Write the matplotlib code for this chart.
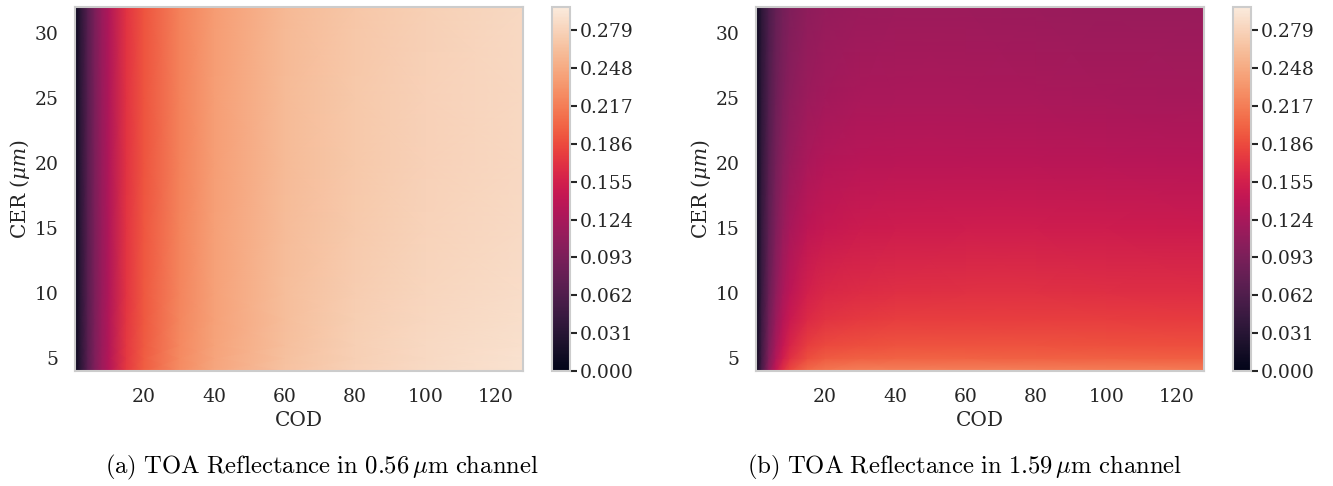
import numpy as np
import matplotlib
matplotlib.use("Agg")
import matplotlib.pyplot as plt
import seaborn as sns

plt.rcParams['font.family'] = ['DejaVu Serif']
plt.rcParams['mathtext.fontset'] = 'dejavuserif'

# ---- data ----
cod = [0.5, 2, 4, 6, 8, 10, 15, 20, 30, 40, 60, 80, 100, 128]
cer = [4, 5, 6, 8, 10, 15, 20, 25, 32]

refl_056 = [
    [0.010, 0.036, 0.069, 0.096, 0.116, 0.132, 0.175, 0.197, 0.226, 0.245, 0.266, 0.278, 0.285, 0.291],  # CER 4
    [0.010, 0.036, 0.069, 0.095, 0.116, 0.132, 0.174, 0.196, 0.225, 0.244, 0.265, 0.277, 0.284, 0.290],  # CER 5
    [0.010, 0.035, 0.068, 0.095, 0.115, 0.131, 0.174, 0.195, 0.224, 0.243, 0.264, 0.276, 0.283, 0.289],  # CER 6
    [0.010, 0.035, 0.068, 0.094, 0.115, 0.131, 0.173, 0.194, 0.223, 0.242, 0.263, 0.275, 0.282, 0.288],  # CER 8
    [0.010, 0.035, 0.068, 0.094, 0.114, 0.130, 0.172, 0.194, 0.222, 0.241, 0.262, 0.274, 0.281, 0.287],  # CER 10
    [0.010, 0.035, 0.068, 0.094, 0.114, 0.130, 0.172, 0.193, 0.221, 0.240, 0.261, 0.272, 0.279, 0.285],  # CER 15
    [0.010, 0.035, 0.068, 0.094, 0.114, 0.130, 0.171, 0.192, 0.220, 0.239, 0.260, 0.271, 0.278, 0.284],  # CER 20
    [0.010, 0.035, 0.067, 0.093, 0.113, 0.129, 0.171, 0.192, 0.220, 0.239, 0.260, 0.271, 0.278, 0.284],  # CER 25
    [0.010, 0.035, 0.067, 0.093, 0.113, 0.129, 0.170, 0.191, 0.219, 0.238, 0.259, 0.270, 0.277, 0.283],  # CER 32
]

refl_159 = [
    [0.013, 0.056, 0.106, 0.143, 0.168, 0.185, 0.205, 0.214, 0.219, 0.220, 0.220, 0.219, 0.218, 0.217],  # CER 4
    [0.012, 0.052, 0.097, 0.130, 0.152, 0.168, 0.187, 0.195, 0.199, 0.200, 0.200, 0.199, 0.198, 0.197],  # CER 5
    [0.012, 0.050, 0.092, 0.123, 0.144, 0.159, 0.177, 0.184, 0.188, 0.190, 0.190, 0.190, 0.189, 0.188],  # CER 6
    [0.011, 0.047, 0.086, 0.114, 0.133, 0.147, 0.164, 0.171, 0.175, 0.177, 0.178, 0.178, 0.177, 0.176],  # CER 8
    [0.011, 0.045, 0.081, 0.107, 0.125, 0.138, 0.155, 0.162, 0.166, 0.168, 0.169, 0.169, 0.168, 0.167],  # CER 10
    [0.010, 0.041, 0.073, 0.096, 0.112, 0.124, 0.139, 0.145, 0.150, 0.151, 0.152, 0.152, 0.151, 0.150],  # CER 15
    [0.010, 0.039, 0.068, 0.089, 0.103, 0.113, 0.126, 0.132, 0.136, 0.137, 0.137, 0.137, 0.136, 0.135],  # CER 20
    [0.010, 0.037, 0.064, 0.083, 0.096, 0.105, 0.116, 0.121, 0.125, 0.126, 0.126, 0.125, 0.124, 0.123],  # CER 25
    [0.010, 0.035, 0.060, 0.077, 0.088, 0.096, 0.106, 0.111, 0.115, 0.116, 0.116, 0.115, 0.114, 0.113],  # CER 32
]

cbar_ticks = [0.000, 0.031, 0.062, 0.093, 0.124, 0.155, 0.186, 0.217, 0.248, 0.279]
x_ticks = [20, 40, 60, 80, 100, 120]
y_ticks = [5, 10, 15, 20, 25, 30]
captions = [r"$\mathrm{(a)\ TOA\ Reflectance\ in\ 0.56\,\mu m\ channel}$",
            r"$\mathrm{(b)\ TOA\ Reflectance\ in\ 1.59\,\mu m\ channel}$"]

vmin, vmax = 0.0, 0.298
cmap = sns.color_palette("rocket", as_cmap=True)

W, H = 1333, 486
fig = plt.figure(figsize=(W / 100, H / 100), dpi=100)

def px(x0, y0, x1, y1):
    return [x0 / W, 1 - y1 / H, (x1 - x0) / W, (y1 - y0) / H]

panels = [
    (refl_056, px(75, 7, 523, 371), px(552, 7, 570, 371), 322),
    (refl_159, px(756, 7, 1204, 371), px(1233, 7, 1251, 371), 965),
]

spine_col = '#cccccc'
txt_col = '#262626'
for i, (Z, axpos, cbpos, capx) in enumerate(panels):
    ax = fig.add_axes(axpos)
    mesh = ax.pcolormesh(np.array(cod), np.array(cer), np.array(Z),
                         shading='gouraud', cmap=cmap, vmin=vmin, vmax=vmax,
                         rasterized=True)
    ax.set_xlim(0.4, 127.7)
    ax.set_ylim(4, 32)
    ax.set_xticks(x_ticks)
    ax.set_yticks(y_ticks)
    ax.tick_params(axis='x', length=0, labelsize=13.5, colors=txt_col, pad=12)
    ax.tick_params(axis='y', length=0, labelsize=13.5, colors=txt_col, pad=12)
    ax.set_xlabel('COD', fontsize=14.5, color=txt_col, labelpad=4)
    ax.set_ylabel(r'CER ($\mu m$)', fontsize=14.5, color=txt_col, labelpad=2)
    for s in ax.spines.values():
        s.set_color(spine_col)
        s.set_linewidth(1.5)

    cax = fig.add_axes(cbpos)
    cb = fig.colorbar(mesh, cax=cax, ticks=cbar_ticks)
    cb.ax.set_yticklabels([f"{t:.3f}" for t in cbar_ticks])
    cb.ax.tick_params(length=5, width=1.5, labelsize=13.5, colors=txt_col, pad=2)
    cb.outline.set_edgecolor(spine_col)
    cb.outline.set_linewidth(1.5)

    fig.text(capx / W, 1 - 467 / H, captions[i], ha='center', va='center',
             fontsize=17.8, math_fontfamily='cm', color='black')

fig.savefig('out.png', dpi=100)
